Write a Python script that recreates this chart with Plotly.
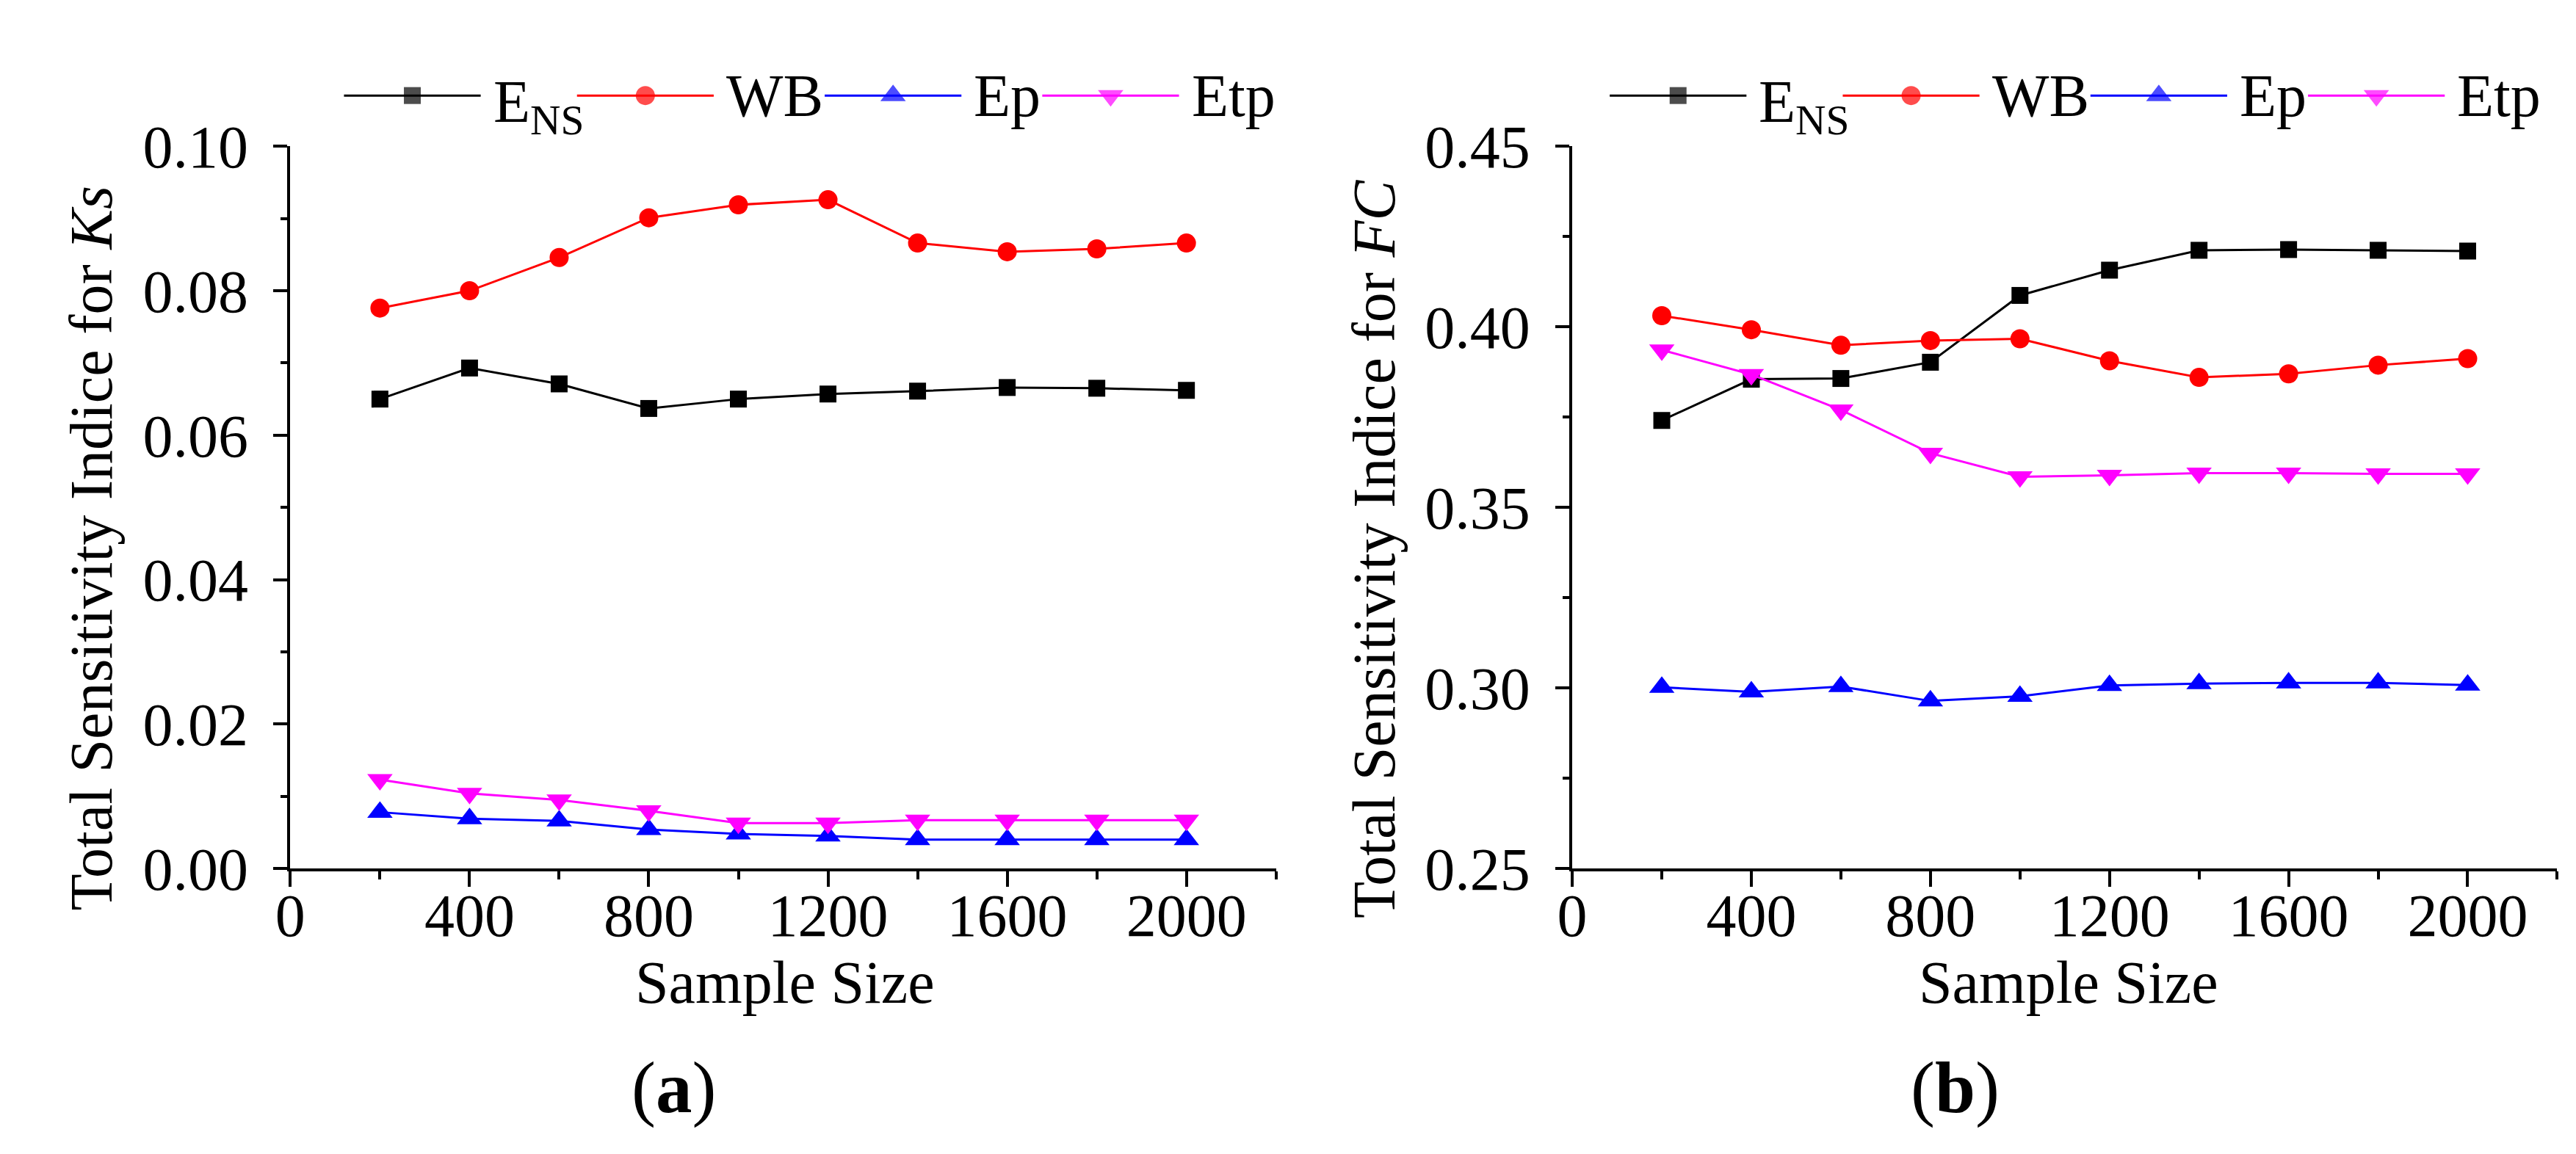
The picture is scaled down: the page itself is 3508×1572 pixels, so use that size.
import plotly.graph_objects as go

# the photographed page shows the figure shifted and slightly squeezed;
# everything below is laid out in photo pixels and mapped back to figure paper
SHIFT_X, SHIFT_Y = 22, 49
SCALE_X, SCALE_Y = 0.993, 0.941
W, H = 3490, 1590

sample_size = [200, 400, 600, 800, 1000, 1200, 1400, 1600, 1800, 2000]

# panel (a): Ks
ks_ens = [0.0650, 0.0693, 0.0671, 0.0637, 0.0650, 0.0657, 0.0661, 0.0666, 0.0665, 0.0662]
ks_wb = [0.0776, 0.0800, 0.0846, 0.0901, 0.0919, 0.0926, 0.0866, 0.0854, 0.0858, 0.0866]
ks_ep = [0.0078, 0.0069, 0.0066, 0.0054, 0.0048, 0.0045, 0.0040, 0.0040, 0.0040, 0.0040]
ks_etp = [0.0123, 0.0104, 0.0095, 0.0080, 0.0063, 0.0063, 0.0067, 0.0067, 0.0067, 0.0067]

# panel (b): FC
fc_ens = [0.3741, 0.3855, 0.3857, 0.3902, 0.4087, 0.4157, 0.4212, 0.4214, 0.4212, 0.4210]
fc_wb = [0.4031, 0.3992, 0.3949, 0.3962, 0.3967, 0.3906, 0.3860, 0.3870, 0.3894, 0.3912]
fc_ep = [0.3002, 0.2989, 0.3004, 0.2964, 0.2977, 0.3007, 0.3012, 0.3014, 0.3014, 0.3008]
fc_etp = [0.3936, 0.3868, 0.3770, 0.3650, 0.3585, 0.3589, 0.3595, 0.3595, 0.3593, 0.3593]

names = ["E<sub>NS</sub>", "WB", "Ep", "Etp"]
colors = ["#000000", "#ff0000", "#0000ff", "#ff00ff"]
symbols = ["square", "circle", "triangle-up", "triangle-down"]
sizes = [23, 26, 30, 30]

FONT = "Liberation Serif"
FS = 82


def px(x):
    return (x - SHIFT_X) / SCALE_X / W


def py(y):
    return 1 - (y - SHIFT_Y) / SCALE_Y / H


fig = go.Figure()

panels = [
    ("x", "y", [ks_ens, ks_wb, ks_ep, ks_etp]),
    ("x2", "y2", [fc_ens, fc_wb, fc_ep, fc_etp]),
]
for xa, ya, series in panels:
    for i, vals in enumerate(series):
        fig.add_trace(go.Scatter(
            x=sample_size, y=vals, xaxis=xa, yaxis=ya,
            mode="lines+markers", name=names[i], showlegend=False,
            line=dict(color=colors[i], width=3),
            marker=dict(symbol=symbols[i], size=sizes[i], color=colors[i], line=dict(width=0)),
        ))

# hand-made legends above each panel (long line samples like the original)
legend_starts = [461, 2183]
item_offsets = [0, 317, 654, 950]
line_len = 186
text_gap = 201
leg_y = 127

shapes = []
annotations = []
mk_x, mk_y, mk_c, mk_s, mk_z = [], [], [], [], []
for x0 in legend_starts:
    for i, off in enumerate(item_offsets):
        xs = x0 + off
        shapes.append(dict(type="line", xref="paper", yref="paper",
                           x0=px(xs), x1=px(xs + line_len), y0=py(leg_y), y1=py(leg_y),
                           line=dict(color=colors[i], width=3)))
        mk_x.append(px(xs + line_len / 2))
        mk_y.append(py(leg_y))
        mk_c.append(colors[i])
        mk_s.append(symbols[i])
        mk_z.append(sizes[i])
        annotations.append(dict(text=names[i], xref="paper", yref="paper",
                                x=px(xs + text_gap), y=py(leg_y + (14 if i == 0 else 0)),
                                xanchor="left", yanchor="middle", showarrow=False,
                                font=dict(family=FONT, size=FS, color="black")))

fig.add_trace(go.Scatter(
    x=mk_x, y=mk_y, xaxis="x3", yaxis="y3", mode="markers", showlegend=False,
    hoverinfo="skip",
    marker=dict(symbol=mk_s, size=mk_z, color=mk_c, line=dict(width=0)),
))

# axis titles and panel labels
ytitles = [("Total Sensitivity Indice for <i>Ks</i>", 117),
           ("Total Sensitivity Indice for <i>FC</i>", 1862)]
for txt, x in ytitles:
    annotations.append(dict(text=txt, xref="paper", yref="paper", x=px(x), y=py(743),
                            textangle=-90, xanchor="center", yanchor="middle", showarrow=False,
                            font=dict(family=FONT, size=FS, color="black")))
for x in [1061, 2807]:
    annotations.append(dict(text="Sample Size", xref="paper", yref="paper", x=px(x), y=py(1333),
                            xanchor="center", yanchor="middle", showarrow=False,
                            font=dict(family=FONT, size=FS, color="black")))
for txt, x in [("(<b>a</b>)", 910), ("(<b>b</b>)", 2653)]:
    annotations.append(dict(text=txt, xref="paper", yref="paper", x=px(x), y=py(1476),
                            xanchor="center", yanchor="middle", showarrow=False,
                            font=dict(family=FONT, size=99, color="black")))

tickfont = dict(family=FONT, size=FS, color="black")
common_x = dict(range=[0, 2200], dtick=400, tick0=0, showline=True, linewidth=4, linecolor="black",
                ticks="outside", ticklen=21, tickwidth=4, tickcolor="black", ticklabelstandoff=-32,
                minor=dict(ticks="outside", ticklen=11, tickwidth=4, tickcolor="black", dtick=200, tick0=0),
                showgrid=False, zeroline=False, tickfont=tickfont)
common_y = dict(showline=True, linewidth=4, linecolor="black",
                ticks="outside", ticklen=19, tickwidth=4, tickcolor="black", ticklabelstandoff=18,
                showgrid=False, zeroline=False, tickfont=tickfont, tickformat=".2f")

ydom = [py(1178), py(196)]
fig.update_layout(
    width=W, height=H,
    margin=dict(l=0, r=0, t=0, b=0),
    paper_bgcolor="white", plot_bgcolor="rgba(0,0,0,0)",
    font=dict(family=FONT, color="black"),
    xaxis=dict(domain=[px(388), px(1729)], anchor="y", **common_x),
    yaxis=dict(domain=ydom, anchor="x", range=[0, 0.10], dtick=0.02, tick0=0,
               minor=dict(ticks="outside", ticklen=9, tickwidth=4, tickcolor="black", dtick=0.01, tick0=0),
               **common_y),
    xaxis2=dict(domain=[px(2132), px(3472)], anchor="y2", **common_x),
    yaxis2=dict(domain=ydom, anchor="x2", range=[0.25, 0.45], dtick=0.05, tick0=0.25,
                minor=dict(ticks="outside", ticklen=9, tickwidth=4, tickcolor="black", dtick=0.025, tick0=0.25),
                **common_y),
    xaxis3=dict(domain=[0, 1], range=[0, 1], visible=False, anchor="y3"),
    yaxis3=dict(domain=[0, 1], range=[0, 1], visible=False, anchor="x3"),
    shapes=shapes,
    annotations=annotations,
)

fig.write_html("out.html")
